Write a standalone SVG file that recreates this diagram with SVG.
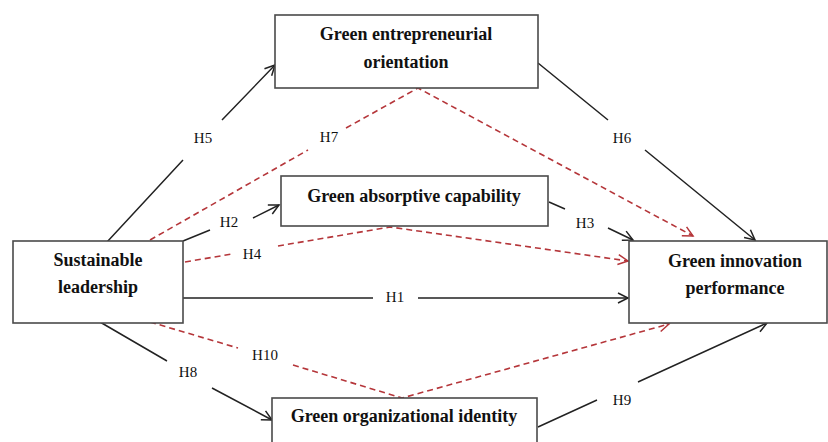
<svg xmlns="http://www.w3.org/2000/svg" width="828" height="442" viewBox="0 0 828 442">
<style>
.box{fill:#fff;stroke:#4a4a4a;stroke-width:1.6}
.nt{font-family:"Liberation Serif","Times New Roman",serif;font-weight:bold;font-size:18px;fill:#111;text-anchor:middle}
.lb{font-family:"Liberation Serif","Times New Roman",serif;font-size:15px;fill:#111;text-anchor:middle}
.s{fill:none;stroke:#222;stroke-width:1.5}
.d{fill:none;stroke:#b5363a;stroke-width:1.6;stroke-dasharray:6,4}
</style>
<defs>
<marker id="ab" markerUnits="userSpaceOnUse" markerWidth="12" markerHeight="12" refX="10" refY="5" orient="auto" overflow="visible">
<path d="M0,0 L10,5 L0,10" fill="none" stroke="#222" stroke-width="1.5"/>
</marker>
<marker id="ar" markerUnits="userSpaceOnUse" markerWidth="12" markerHeight="12" refX="10" refY="5" orient="auto" overflow="visible">
<path d="M0,0 L10,5 L0,10" fill="none" stroke="#b5363a" stroke-width="1.5"/>
</marker>
</defs>
<rect width="828" height="442" fill="#fff"/>
<g id="connectors">
<path class="s" marker-end="url(#ab)" d="M107,242 L183,160 M222,120 L275,65"/>
<path class="s" marker-end="url(#ab)" d="M538,63 L608,120 M645,150 L755,240"/>
<path class="s" marker-end="url(#ab)" d="M183,241 L210,230 M253,218 L279,205"/>
<path class="s" marker-end="url(#ab)" d="M549,202 L565,209 M608,228 L633,240"/>
<path class="s" marker-end="url(#ab)" d="M183,298 L373,298 M418,298 L628,298"/>
<path class="s" marker-end="url(#ab)" d="M100,322 L167,361 M212,388 L272,420"/>
<path class="s" marker-end="url(#ab)" d="M538,427 L597,400 M638,382 L767,323"/>
<path class="d" marker-end="url(#ar)" d="M150,240 L308,150 M346,128 L418,88 L693,236"/>
<path class="d" marker-end="url(#ar)" d="M185,262 L232,254 M278,246 L390,227 L628,261"/>
<path class="d" marker-end="url(#ar)" d="M150,322 L238,348 M293,365 L402,398 L669,324"/>
</g>
<g id="labels">
<text class="lb" x="203" y="143">H5</text>
<text class="lb" x="329" y="142">H7</text>
<text class="lb" x="622" y="143">H6</text>
<text class="lb" x="229" y="227">H2</text>
<text class="lb" x="252" y="259">H4</text>
<text class="lb" x="585" y="228">H3</text>
<text class="lb" x="395" y="302">H1</text>
<text class="lb" x="265" y="360">H10</text>
<text class="lb" x="188" y="377">H8</text>
<text class="lb" x="622" y="405">H9</text>
</g>
<g id="node-geo">
<rect class="box" x="275" y="15" width="263" height="73"/>
<text class="nt" x="406" y="40">Green entrepreneurial</text>
<text class="nt" x="406" y="68">orientation</text>
</g>
<g id="node-gac">
<rect class="box" x="281" y="176" width="267" height="50"/>
<text class="nt" x="414" y="202">Green absorptive capability</text>
</g>
<g id="node-sl">
<rect class="box" x="13" y="241" width="170" height="82"/>
<text class="nt" x="98" y="266">Sustainable</text>
<text class="nt" x="98" y="293">leadership</text>
</g>
<g id="node-gip">
<rect class="box" x="629" y="241" width="198" height="82"/>
<text class="nt" x="735" y="267">Green innovation</text>
<text class="nt" x="735" y="294">performance</text>
</g>
<g id="node-goi">
<rect class="box" x="272" y="398" width="265" height="60"/>
<text class="nt" x="404" y="422">Green organizational identity</text>
</g>
</svg>
